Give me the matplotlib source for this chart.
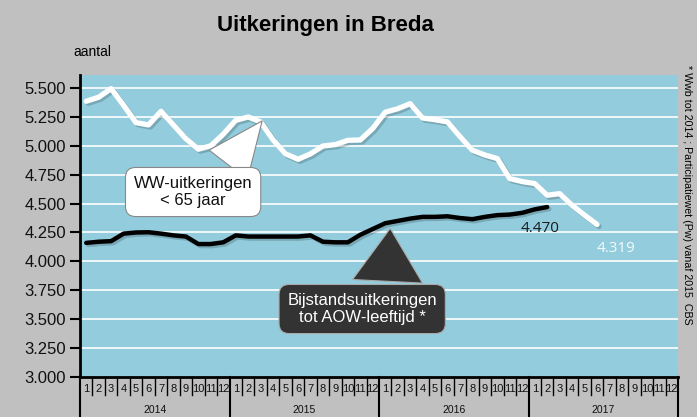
import matplotlib.pyplot as plt
import matplotlib.patheffects as pe
import numpy as np

# maandcijfers jan 2014 t/m ...
ww = [5385, 5420, 5494, 5350, 5200, 5180, 5298, 5180, 5060, 4970, 5000, 5100,
      5220, 5249, 5206, 5050, 4930, 4883, 4930, 4998, 5010, 5047, 5050, 5150,
      5290, 5320, 5364, 5240, 5225, 5206, 5080, 4961, 4920, 4889, 4716, 4690,
      4673, 4572, 4586, 4485, 4400, 4319]
bijstand = [4160, 4170, 4175, 4240, 4250, 4252, 4240, 4225, 4215, 4150, 4150, 4165,
            4225, 4215, 4215, 4215, 4215, 4215, 4225, 4170, 4165, 4165, 4230, 4280,
            4330, 4350, 4370, 4385, 4385, 4390, 4375, 4365, 4385, 4400, 4405, 4420,
            4450, 4470]
years = ['2014', '2015', '2016', '2017']
months = [str(m) for m in range(1, 13)]
yticks = [3000, 3250, 3500, 3750, 4000, 4250, 4500, 4750, 5000, 5250, 5500]

bg = '#c0c0c0'
plotbg = '#93cddd'

fig = plt.figure(figsize=(6.97, 4.17), dpi=100, facecolor=bg)
ax = fig.add_axes([80/697, 40/417, 598/697, 302/417])
ax.set_facecolor(plotbg)
ax.set_xlim(0, 48)
ax.set_ylim(3000, 5612)

for y in yticks[1:]:
    ax.axhline(y, color='white', lw=1.2, zorder=1)

x_ww = np.arange(len(ww)) + 0.5
x_bs = np.arange(len(bijstand)) + 0.5
shadow = [pe.SimpleLineShadow(offset=(1.5, -1.5), shadow_color='k', alpha=0.18), pe.Normal()]
ax.plot(x_ww, ww, color='white', lw=3.8, solid_capstyle='round', solid_joinstyle='round',
        zorder=3, path_effects=shadow)
ax.plot(x_bs, bijstand, color='black', lw=3.2, solid_capstyle='round', solid_joinstyle='round',
        zorder=3, path_effects=shadow)

ax.text(x_bs[-1] - 0.6, 4283, f"{bijstand[-1]:,}".replace(',', '.'), color='#1a1a1a',
        fontsize=11, family='Open Sans', ha='center', va='center')
ax.text(x_ww[-1] + 1.5, 4110, f"{ww[-1]:,}".replace(',', '.'), color='#f4f9fb',
        fontsize=11, family='Open Sans', ha='center', va='center')

# y-as
ax.set_yticks(yticks)
ax.set_yticklabels([f"{v:,}".replace(',', '.') for v in yticks], fontsize=12,
                   family='Liberation Sans', color='#111111')
ax.tick_params(axis='y', length=7, width=1.5, color='black', direction='out', pad=3)
for s in ['top', 'right']:
    ax.spines[s].set_visible(False)
ax.spines['left'].set_linewidth(2)
ax.spines['bottom'].set_linewidth(2)
ax.set_xticks([])

# x-as met maanden en jaren
tr = ax.get_xaxis_transform()
for i in range(48):
    ax.text(i + 0.5, -0.04, months[i % 12], transform=tr, ha='center', va='center',
            fontsize=8, family='Liberation Sans', color='#111111')
    if i % 12:
        ax.plot([i, i], [0, -0.06], transform=tr, color='black', lw=1, clip_on=False)
for k, yr in enumerate(years):
    ax.text(12 * k + 6, -0.109, yr, transform=tr, ha='center', va='center',
            fontsize=7.5, family='Liberation Sans', color='#111111')
for k in range(5):
    ax.plot([12 * k, 12 * k], [0, -0.14], transform=tr, color='black', lw=1.5, clip_on=False)

# callouts
ax.annotate('WW-uitkeringen\n< 65 jaar', xy=(14.62, 5215), xytext=(9.08, 4600),
            ha='center', va='center', fontsize=12, family='Liberation Sans', color='#111111',
            bbox=dict(boxstyle='round,pad=0.5,rounding_size=0.6', fc='white', ec='#888888', lw=0.8),
            arrowprops=dict(arrowstyle='wedge,tail_width=2.9', fc='white', ec='#888888', lw=0.8,
                            relpos=(0.62, 0.5), shrinkB=0),
            zorder=5)
ax.annotate('Bijstandsuitkeringen\ntot AOW-leeftijd *', xy=(24.9, 4285), xytext=(22.65, 3588),
            ha='center', va='center', fontsize=12, family='Liberation Sans', color='white',
            bbox=dict(boxstyle='round,pad=0.5,rounding_size=0.6', fc='#333333', ec='#aaaaaa', lw=0.8),
            arrowprops=dict(arrowstyle='wedge,tail_width=4.2', fc='#333333', ec='#aaaaaa', lw=0.8,
                            relpos=(0.66, 0.5), shrinkB=0),
            zorder=5)

fig.text(325/697, 1 - 25/417, 'Uitkeringen in Breda', ha='center', va='center',
         fontsize=16, fontweight='bold', family='Liberation Sans')
fig.text(73/697, 1 - 52/417, 'aantal', ha='left', va='center', fontsize=10,
         family='Liberation Sans')
fig.text(687/697, 1 - 195/417, '* Wwb tot 2014 ; Participatiewet (Pw) vanaf 2015  CBS',
         rotation=270, ha='center', va='center', fontsize=7.7, family='Liberation Sans')

fig.savefig('out.png', dpi=100, facecolor=bg)
